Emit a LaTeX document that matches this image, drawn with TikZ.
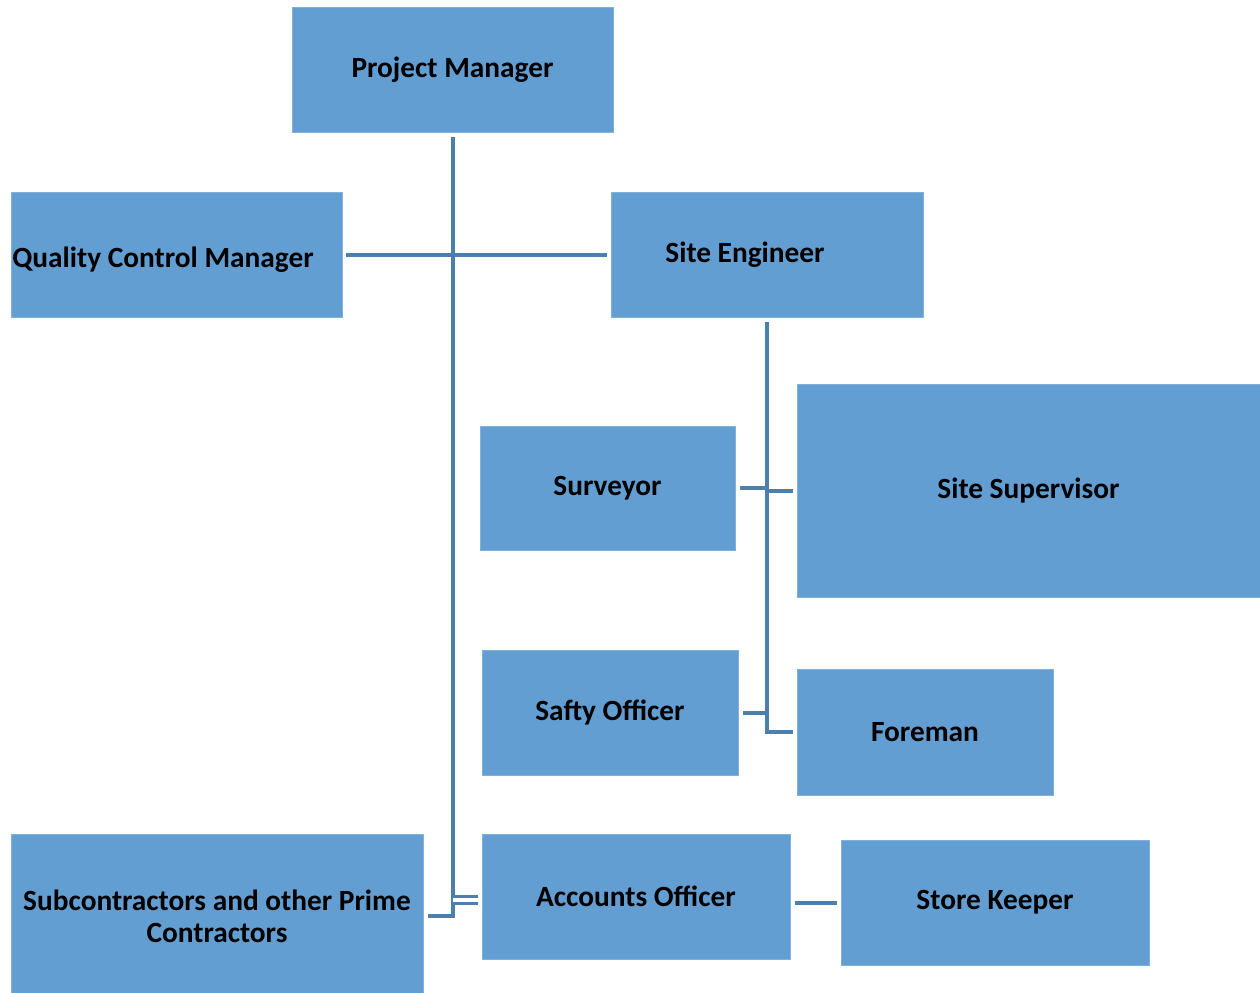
\documentclass[tikz,border=0pt]{standalone}
\usepackage{fontspec}
\setmainfont{Carlito}
\usepackage{tikz}
\usetikzlibrary{positioning, calc}
\usepackage{xcolor}
\definecolor{boxblue}{RGB}{98,158,210}
\definecolor{linkblue}{RGB}{76,127,172}

\begin{document}
\begin{tikzpicture}[x=0.02cm, y=-0.02cm,
    box/.style={fill=boxblue, draw=boxblue!80!white, line width=0.4pt, inner sep=0pt,
      font=\fontsize{16.7}{18.1}\selectfont\bfseries, align=center},
    lbl/.style={font=\fontsize{16.7}{18.1}\selectfont\bfseries, inner sep=0pt},
    conn/.style={draw=linkblue, line width=0.08cm}]
  \useasboundingbox (0,0) rectangle (1260,993);

  % boxes, left column then right
  \node[box, minimum width=6.42cm, minimum height=2.5cm] (pm) at (452.5,69.5) {Project Manager};
  \node[box, minimum width=6.62cm, minimum height=2.5cm] (qcm) at (176.5,254.5) {};
  \node[lbl, anchor=west] (qcmlbl) at (12,260) {Quality Control Manager};
  \node[box, minimum width=6.24cm, minimum height=2.5cm] (se) at (767,254.5) {};
  \node[lbl] (selbl) at (745,255) {Site Engineer};
  \node[box, minimum width=5.1cm, minimum height=2.48cm] (sur) at (607.5,488) {Surveyor};
  \node[box, minimum width=9.26cm, minimum height=4.26cm] (sup) at (1028.5,490.5) {Site Supervisor};
  \node[box, minimum width=5.12cm, minimum height=2.5cm] (safe) at (610,712.5) {Safty Officer};
  \node[box, minimum width=5.12cm, minimum height=2.52cm] (fore) at (925,732) {Foreman};
  \node[box, minimum width=8.24cm, minimum height=3.28cm] (sub) at (217,916) {Subcontractors and other Prime\\Contractors};
  \node[box, minimum width=6.16cm, minimum height=2.5cm] (acc) at (636,896.5) {Accounts Officer};
  \node[box, minimum width=6.16cm, minimum height=2.5cm] (store) at (995,902.5) {Store Keeper};

  % main spine from the project manager
  \draw[conn] ([yshift=-0.1cm]pm.south) |- ([xshift=0.1cm]sub.east);
  \draw[conn] ([xshift=0.08cm]qcm.east) -- ([xshift=-0.08cm]se.west);
  \draw[conn, line width=0.06cm, double=white, double distance=0.07cm]
    ([yshift=-0.07cm]pm.south |- acc.west) -- ([xshift=-0.08cm,yshift=-0.07cm]acc.west);

  % site engineer branch
  \draw[conn] ([yshift=-0.1cm]se.south) |- ([xshift=-0.08cm]fore.west);
  \draw[conn] ([xshift=0.1cm]sur.east) -- (sur.east -| se.south);
  \draw[conn] ([xshift=-0.08cm]sup.west) -- (sup.west -| se.south);
  \draw[conn] ([xshift=0.1cm]safe.east) -- (safe.east -| se.south);

  % accounts to store
  \draw[conn] ([xshift=0.1cm]acc.east |- store.west) -- ([xshift=-0.08cm]store.west);
\end{tikzpicture}
\end{document}
